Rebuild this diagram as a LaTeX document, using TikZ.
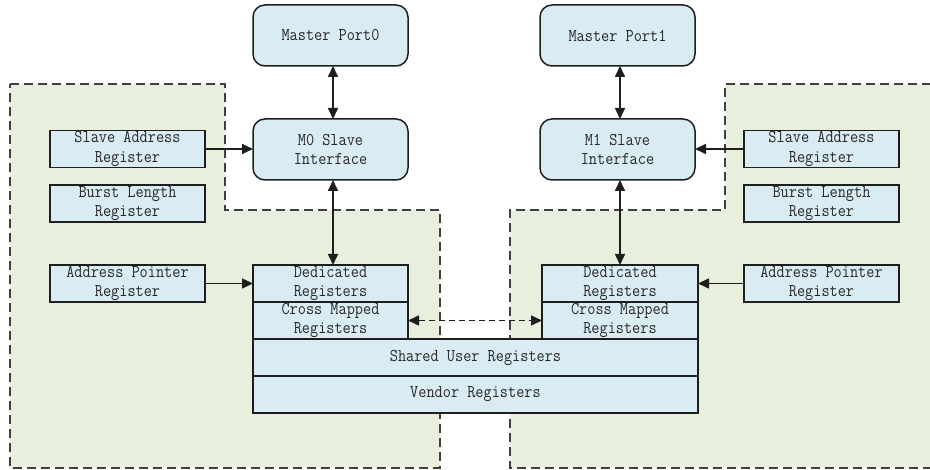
\documentclass[tikz,border=0pt]{standalone}
\usepackage{fontspec}
\newfontfamily\diagfont{Latin Modern Mono}[FakeStretch=0.88]
\usetikzlibrary{arrows.meta}
\definecolor{boxblue}{RGB}{218,236,243}
\definecolor{regiongreen}{RGB}{233,239,221}
\definecolor{linecol}{RGB}{30,30,30}
\definecolor{textcol}{RGB}{40,40,40}
\tikzset{
  base/.style={draw=linecol, fill=boxblue, line width=1.5pt, text=textcol,
    font=\diagfont\fontsize{18}{19.5}\selectfont, align=center, inner sep=0pt, outer sep=0pt},
  portbox/.style={base, rounded corners=12pt, minimum width=155pt, minimum height=61pt},
  regbox/.style={base, minimum width=155pt, minimum height=37pt},
  widebox/.style={base, minimum width=445pt, minimum height=37pt},
  region/.style={fill=regiongreen},
  regionedge/.style={draw=linecol!85, line width=1.5pt, dash pattern=on 9pt off 5pt},
  conn/.style={draw=linecol, line width=1.6pt},
  tip/.style={-{Triangle[length=11pt,width=10pt]}},
  biTip/.style={{Triangle[length=11pt,width=10pt]}-{Triangle[length=11pt,width=10pt]}}
}
\begin{document}
\begin{tikzpicture}[x=1pt,y=-1pt]
\useasboundingbox (0,0) rectangle (930,470);
\clip (0,0) rectangle (930,470);
% regions
\fill[region] (10,84) -- (225,84) -- (225,210) -- (440,210) -- (440,468) -- (10,468) -- cycle;
\draw[regionedge] (10,84) -- (225,84) -- (225,210) -- (440,210) -- (440,468) -- (10,468) -- cycle;
\fill[region] (945,84) -- (725,84) -- (725,210) -- (510,210) -- (510,468) -- (945,468) -- cycle;
\draw[regionedge] (945,84) -- (725,84) -- (725,210) -- (510,210) -- (510,468) -- (945,468);
% nodes
\node[portbox] (mp0) at (330.5,35.5) {Master Port0};
\node[portbox] (m0) at (330.5,149.5) {M0 Slave\\Interface};
\node[portbox] (mp1) at (617.5,35.5) {Master Port1};
\node[portbox] (m1) at (617.5,149.5) {M1 Slave\\Interface};
\node[regbox] (sarL) at (127.5,149) {Slave Address\\Register};
\node[regbox] (blL) at (127.5,203.5) {Burst Length\\Register};
\node[regbox] (aprL) at (127.5,283.5) {Address Pointer\\Register};
\node[regbox] (sarR) at (821.5,149) {Slave Address\\Register};
\node[regbox] (blR) at (821.5,203.5) {Burst Length\\Register};
\node[regbox] (aprR) at (821.5,283.5) {Address Pointer\\Register};
\node[regbox] (dedL) at (330.5,283.5) {Dedicated\\Registers};
\node[regbox] (cmL) at (330.5,320.5) {Cross Mapped\\Registers};
\node[regbox, minimum width=156pt] (dedR) at (620,283.5) {Dedicated\\Registers};
\node[regbox, minimum width=156pt] (cmR) at (620,320.5) {Cross Mapped\\Registers};
\node[widebox] (shared) at (475.5,357.5) {Shared User Registers};
\node[widebox] (vendor) at (475.5,394.5) {Vendor Registers};
% connectors
\draw[conn, biTip] ([xshift=2.5pt]mp0.south) -- ([xshift=2.5pt]m0.north);
\draw[conn, biTip] ([xshift=2.5pt]m0.south) -- ([xshift=2.5pt]dedL.north);
\draw[conn, biTip] ([xshift=2.5pt]mp1.south) -- ([xshift=2.5pt]m1.north);
\draw[conn, biTip] (dedR.north |- m1.south) -- (dedR.north);
\draw[conn, tip] (sarL.east) -- (sarL.east -| m0.west);
\draw[conn, tip] (sarR.west) -- (sarR.west -| m1.east);
\draw[conn, tip] (aprL.east) -- (dedL.west);
\draw[conn, tip] (aprR.west) -- (dedR.east);
\draw[conn, biTip, dash pattern=on 6pt off 4pt] (cmL.east) -- (cmR.west);
\end{tikzpicture}
\end{document}
